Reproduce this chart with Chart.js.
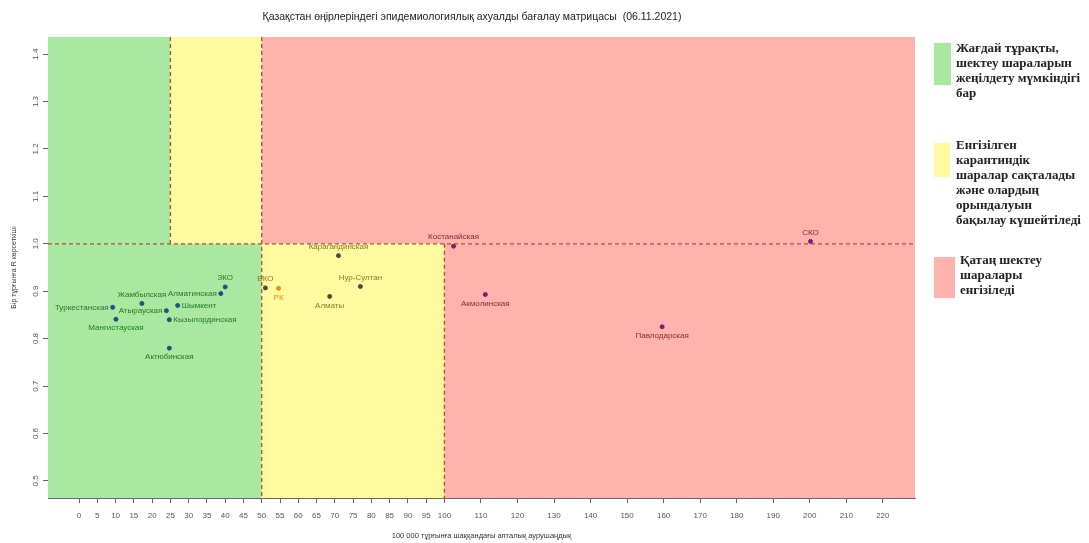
<!DOCTYPE html>
<html>
<head>
<meta charset="utf-8">
<script src="https://cdn.jsdelivr.net/npm/chart.js@4.4.0/dist/chart.umd.min.js"></script>
<style>
  body{margin:0;background:#fff;}
  #wrap{position:relative;width:1089px;height:543px;}
  #legend{position:absolute;left:0;top:0;font-family:"Liberation Serif","DejaVu Serif",serif;font-weight:bold;font-size:13px;line-height:15px;color:#222;}
  .box{position:absolute;}
  .txt{position:absolute;white-space:nowrap;}
</style>
</head>
<body>
<div id="wrap">
  <canvas id="matrix" width="1089" height="543"></canvas>
  <div id="legend">
    <div class="box" style="left:934px;top:43px;width:17px;height:42px;background:#a8e8a0"></div>
    <div class="txt" style="left:956px;top:40px">Жағдай тұрақты,<br>шектеу шараларын<br>жеңілдету мүмкіндігі<br>бар</div>
    <div class="box" style="left:934px;top:143px;width:16px;height:34px;background:#fffaa0"></div>
    <div class="txt" style="left:956px;top:137px">Енгізілген<br>карантиндік<br>шаралар сақталады<br>және олардың<br>орындалуын<br>бақылау күшейтіледі</div>
    <div class="box" style="left:934px;top:257px;width:21px;height:41px;background:#ffb3ad"></div>
    <div class="txt" style="left:960px;top:252px">Қатаң шектеу<br>шаралары<br>енгізіледі</div>
  </div>
</div>
<script>
const chartTitle = 'Қазақстан өңірлеріндегі эпидемиологиялық ахуалды бағалау матрицасы  (06.11.2021)';
const xTitle = '100 000 тұрғынға шаққандағы апталық аурушаңдық';
const yTitle = 'Бір тұрғынға R көрсеткіші';

const regions = ['Туркестанская','Мангистауская','Жамбылская','Атырауская','Кызылординская','Шымкент',
  'Алматинская','ЗКО','Актюбинская','ВКО','РК','Алматы','Карагандинская','Нур-Султан',
  'Костанайская','Акмолинская','Павлодарская','СКО'];
const incidence = [9.2, 10.1, 17.2, 23.9, 24.7, 27.0, 38.8, 40.0, 24.7, 51.0, 54.6, 68.6, 71.0, 77.0, 102.5, 111.2, 159.6, 200.2];
const rValues   = [0.866, 0.841, 0.874, 0.859, 0.840, 0.870, 0.895, 0.909, 0.780, 0.907, 0.906, 0.889, 0.975, 0.910, 0.995, 0.893, 0.825, 1.005];
// where each label sits relative to its point
const labelSide = ['left','below','above','left','right','right','left','above','below','above','below','below','above','above','above','below','below','above'];

const xTicks = [0,5,10,15,20,25,30,35,40,45,50,55,60,65,70,75,80,85,90,95,100,110,120,130,140,150,160,170,180,190,200,210,220];
const yTicks = [0.5,0.6,0.7,0.8,0.9,1.0,1.1,1.2,1.3,1.4];

// thresholds of the zones
const rLimit = 1;
const limitsAbove = [25, 50];   // R > 1
const limitsBelow = [50, 100];  // R < 1

const zoneFill = ['#a8e8a0', '#fffaa0', '#ffb3ad'];
const dotColor = ['#1f4f86', '#4a4a3a', '#7a1f78'];
const textColor = ['#237a23', '#8a7a2a', '#8b2a35'];

function zoneOf(x, y){
  const lim = y >= rLimit ? limitsAbove : limitsBelow;
  if (x < lim[0]) return 0;
  if (x < lim[1]) return 1;
  return 2;
}
const pointZones = regions.map((r,i)=>zoneOf(incidence[i], rValues[i]));
const dotColors = regions.map((r,i)=> r==='РК' ? '#e8900c' : dotColor[pointZones[i]]);
const txtColors = regions.map((r,i)=> r==='РК' ? '#e8900c' : textColor[pointZones[i]]);

const narrow = '"Liberation Sans Narrow","Liberation Sans",Arial,sans-serif';

const zonesPlugin = {
  id:'zones',
  beforeDatasetsDraw(chart){
    const {ctx, chartArea:a, scales:{x,y}} = chart;
    const yr = y.getPixelForValue(rLimit);
    const xa = limitsAbove.map(v=>x.getPixelForValue(v));
    const xb = limitsBelow.map(v=>x.getPixelForValue(v));
    ctx.save();
    // above R limit
    ctx.fillStyle = zoneFill[0]; ctx.fillRect(a.left, a.top, xa[0]-a.left, yr-a.top);
    ctx.fillStyle = zoneFill[1]; ctx.fillRect(xa[0], a.top, xa[1]-xa[0], yr-a.top);
    ctx.fillStyle = zoneFill[2]; ctx.fillRect(xa[1], a.top, a.right-xa[1], yr-a.top);
    // below R limit
    ctx.fillStyle = zoneFill[0]; ctx.fillRect(a.left, yr, xb[0]-a.left, a.bottom-yr);
    ctx.fillStyle = zoneFill[1]; ctx.fillRect(xb[0], yr, xb[1]-xb[0], a.bottom-yr);
    ctx.fillStyle = zoneFill[2]; ctx.fillRect(xb[1], yr, a.right-xb[1], a.bottom-yr);
    // dashed borders
    ctx.strokeStyle = 'rgba(165,65,30,0.9)';
    ctx.lineWidth = 1.3;
    ctx.setLineDash([4,3]);
    const line = (x1,y1,x2,y2)=>{ ctx.beginPath(); ctx.moveTo(x1,y1); ctx.lineTo(x2,y2); ctx.stroke(); };
    line(a.left, yr, a.right, yr);
    line(xa[0], a.top, xa[0], yr);
    line(xa[1], a.top, xa[1], a.bottom);
    line(xb[1], yr, xb[1], a.bottom);
    ctx.restore();
  },
  afterDatasetsDraw(chart){
    const {ctx} = chart;
    const meta = chart.getDatasetMeta(0);
    ctx.save();
    ctx.font = '8px ' + narrow;
    meta.data.forEach((pt,i)=>{
      const side = labelSide[i];
      let tx = pt.x, ty = pt.y;
      ctx.textAlign = 'center'; ctx.textBaseline = 'middle';
      if (side==='above') ty -= 9;
      else if (side==='below') ty += 9;
      else if (side==='left') { tx -= 4; ctx.textAlign = 'right'; }
      else { tx += 4; ctx.textAlign = 'left'; }
      ctx.fillStyle = txtColors[i];
      ctx.fillText(regions[i], tx, ty);
    });
    ctx.restore();
  },
  afterDraw(chart){
    const {ctx, chartArea:a, scales:{y}} = chart;
    ctx.save();
    ctx.fillStyle = '#222';
    ctx.font = '10.5px ' + narrow;
    ctx.textAlign = 'center'; ctx.textBaseline = 'middle';
    ctx.fillText(chartTitle, 472, 17);
    // rotated y tick labels, R style
    ctx.fillStyle = '#555';
    ctx.font = '8px ' + narrow;
    y.ticks.forEach(t=>{
      const py = y.getPixelForValue(t.value);
      ctx.save();
      ctx.translate(36, py);
      ctx.rotate(-Math.PI/2);
      ctx.fillText(t.value.toFixed(1), 0, 0);
      ctx.restore();
    });
    ctx.restore();
  }
};

new Chart(document.getElementById('matrix'), {
  type:'scatter',
  data:{
    datasets:[{
      data: regions.map((r,i)=>({x:incidence[i], y:rValues[i]})),
      pointBackgroundColor: dotColors,
      pointBorderColor: dotColors,
      pointRadius: 2,
      pointHoverRadius: 2
    }]
  },
  options:{
    responsive:false,
    animation:false,
    layout:{padding:{top:37, right:174, left:0, bottom:0}},
    plugins:{legend:{display:false}, tooltip:{enabled:false}, title:{display:false}},
    scales:{
      x:{
        type:'linear', min:-8.5, max:228.8,
        afterBuildTicks: s=>{ s.ticks = xTicks.map(v=>({value:v})); },
        afterFit: s=>{ s.height = 45; },
        grid:{drawOnChartArea:false, drawTicks:true, tickLength:5, color:'#666'},
        border:{display:true, color:'#666'},
        ticks:{color:'#555', font:{family:narrow, size:8}, padding:8, autoSkip:false, maxRotation:0,
          callback: v=>String(v)},
        title:{display:true, text:xTitle, color:'#333', font:{family:narrow, size:7.5}, padding:{top:0,bottom:3}}
      },
      y:{
        type:'linear', min:0.464, max:1.436,
        afterBuildTicks: s=>{ s.ticks = yTicks.map(v=>({value:v})); },
        afterFit: s=>{ s.width = 48; },
        grid:{drawOnChartArea:false, drawTicks:true, tickLength:5, color:'#666'},
        border:{display:true, color:'#666'},
        ticks:{color:'rgba(0,0,0,0)', font:{family:narrow, size:8}},
        title:{display:true, text:yTitle, color:'#333', font:{family:narrow, size:7}, padding:{top:10,bottom:0}}
      }
    }
  },
  plugins:[zonesPlugin]
});
</script>
</body>
</html>
